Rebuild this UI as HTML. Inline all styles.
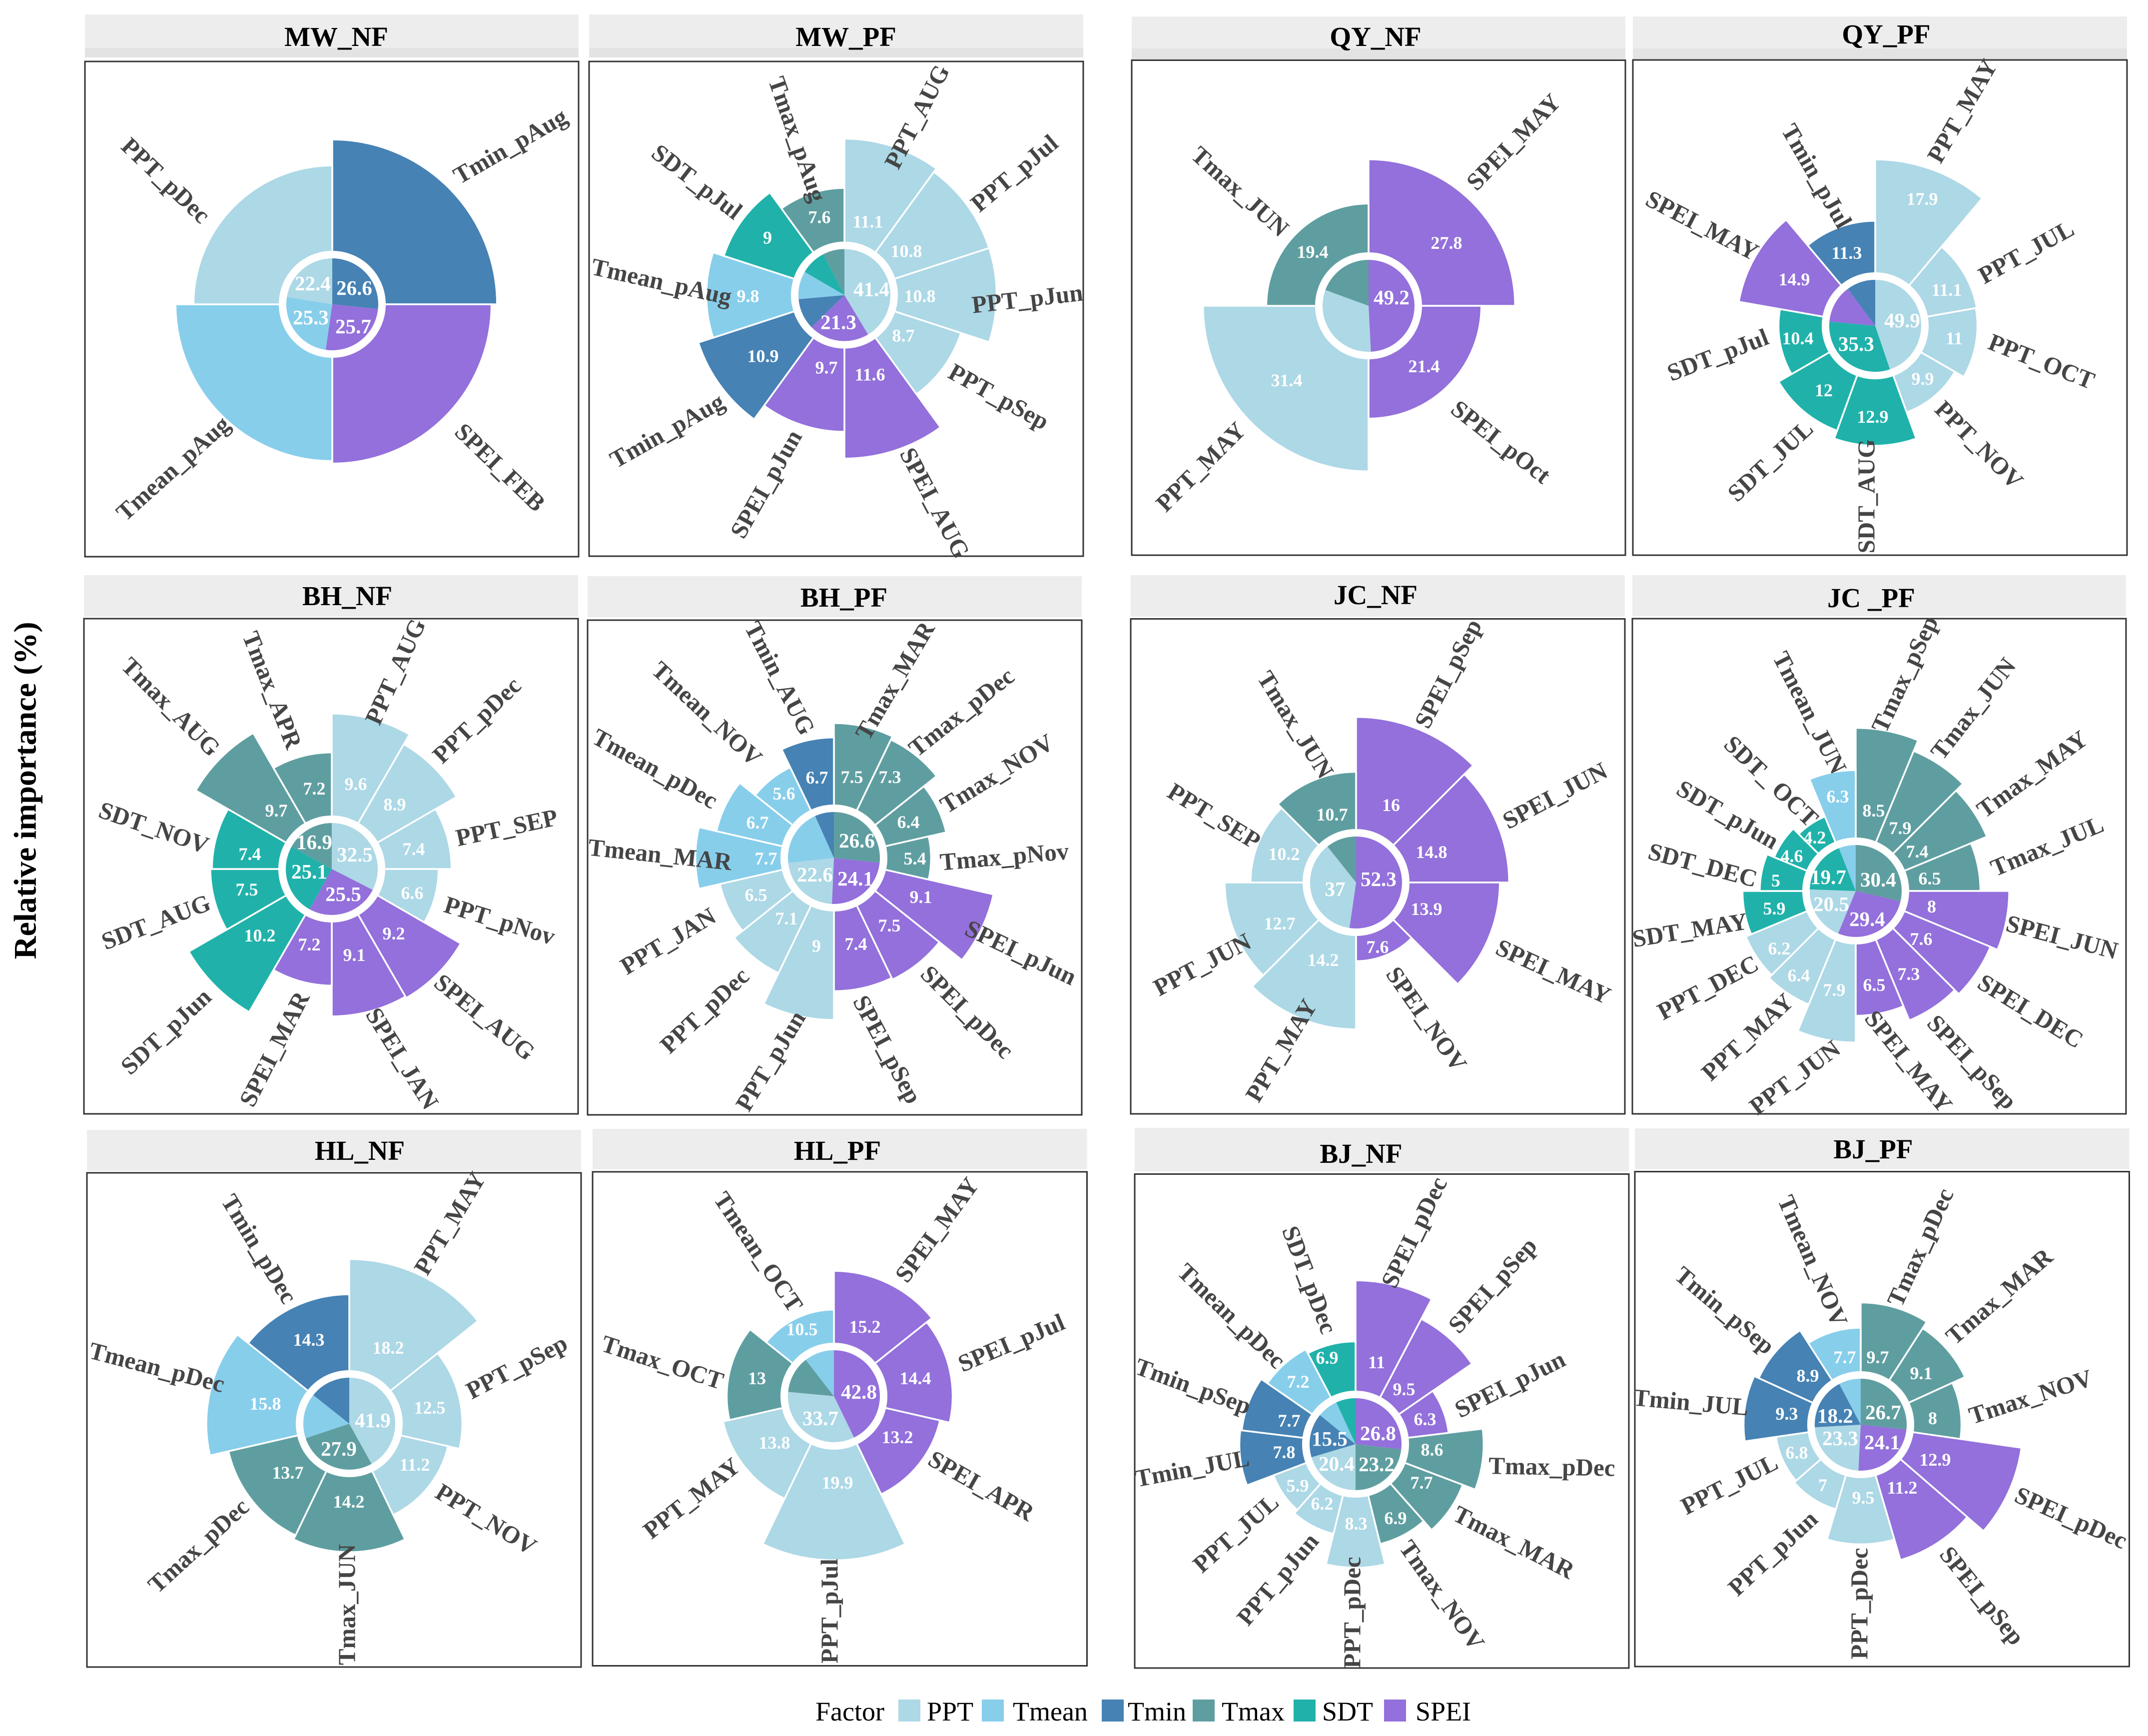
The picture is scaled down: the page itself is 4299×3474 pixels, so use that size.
<!DOCTYPE html>
<html lang="en">
<head>
<meta charset="utf-8">
<title>Relative importance polar bar charts</title>
<style>
html,body{margin:0;padding:0;background:#fff;}
svg{display:block;font-family:"Liberation Serif",serif;}
</style>
</head>
<body>
<svg id="chart" xmlns="http://www.w3.org/2000/svg" width="4299" height="3474" viewBox="0 0 4299 3474">
<rect x="0" y="0" width="4299" height="3474" fill="#ffffff"/>
<text transform="translate(50,1582) rotate(-90)" text-anchor="middle" dominant-baseline="central" font-size="64" font-weight="bold" fill="#000">Relative importance (%)</text>
<g font-size="54" fill="#000">
<text x="1632" y="3443">Factor</text>
<rect x="1798" y="3401" width="44" height="44" fill="#ADD8E6"/>
<text x="1855" y="3443">PPT</text>
<rect x="1965" y="3401" width="44" height="44" fill="#87CEEB"/>
<text x="2027" y="3443">Tmean</text>
<rect x="2205" y="3401" width="44" height="44" fill="#4682B4"/>
<text x="2257" y="3443">Tmin</text>
<rect x="2387" y="3401" width="44" height="44" fill="#5F9EA0"/>
<text x="2445" y="3443">Tmax</text>
<rect x="2589" y="3401" width="44" height="44" fill="#20B2AA"/>
<text x="2646" y="3443">SDT</text>
<rect x="2770" y="3401" width="44" height="44" fill="#9370DB"/>
<text x="2833" y="3443">SPEI</text>
</g>
</svg>
<script>
/* ---------- data: categories, bar values, inner-pie printed totals ---------- */
const mwNfLabels=["Tmin_pAug","SPEI_FEB","Tmean_pAug","PPT_pDec"];
const mwNfValues=[26.6,25.7,25.3,22.4];
const mwNfPie=[26.6,25.7,25.3,22.4];

const mwPfLabels=["PPT_AUG","PPT_pJul","PPT_pJun","PPT_pSep","SPEI_AUG","SPEI_pJun","Tmin_pAug","Tmean_pAug","SDT_pJul","Tmax_pAug"];
const mwPfValues=[11.1,10.8,10.8,8.7,11.6,9.7,10.9,9.8,9,7.6];
const mwPfPie=[41.4,21.3,10.9,9.8,9,7.6];

const qyNfLabels=["SPEI_MAY","SPEI_pOct","PPT_MAY","Tmax_JUN"];
const qyNfValues=[27.8,21.4,31.4,19.4];
const qyNfPie=[49.2,31.4,19.4];

const qyPfLabels=["PPT_MAY","PPT_JUL","PPT_OCT","PPT_NOV","SDT_AUG","SDT_JUL","SDT_pJul","SPEI_MAY","Tmin_pJul"];
const qyPfValues=[17.9,11.1,11,9.9,12.9,12,10.4,14.9,11.3];
const qyPfPie=[49.9,35.3,14.9,11.3];

const bhNfLabels=["PPT_AUG","PPT_pDec","PPT_SEP","PPT_pNov","SPEI_AUG","SPEI_JAN","SPEI_MAR","SDT_pJun","SDT_AUG","SDT_NOV","Tmax_AUG","Tmax_APR"];
const bhNfValues=[9.6,8.9,7.4,6.6,9.2,9.1,7.2,10.2,7.5,7.4,9.7,7.2];
const bhNfPie=[32.5,25.5,25.1,16.9];

const bhPfLabels=["Tmax_MAR","Tmax_pDec","Tmax_NOV","Tmax_pNov","SPEI_pJun","SPEI_pDec","SPEI_pSep","PPT_pJun","PPT_pDec","PPT_JAN","Tmean_MAR","Tmean_pDec","Tmean_NOV","Tmin_AUG"];
const bhPfValues=[7.5,7.3,6.4,5.4,9.1,7.5,7.4,9,7.1,6.5,7.7,6.7,5.6,6.7];
const bhPfPie=[26.6,24.1,22.6,20,6.7];

const jcNfLabels=["SPEI_pSep","SPEI_JUN","SPEI_MAY","SPEI_NOV","PPT_MAY","PPT_JUN","PPT_SEP","Tmax_JUN"];
const jcNfValues=[16,14.8,13.9,7.6,14.2,12.7,10.2,10.7];
const jcNfPie=[52.3,37,10.7];

const jcPfLabels=["Tmax_pSep","Tmax_JUN","Tmax_MAY","Tmax_JUL","SPEI_JUN","SPEI_DEC","SPEI_pSep","SPEI_MAY","PPT_JUN","PPT_MAY","PPT_DEC","SDT_MAY","SDT_DEC","SDT_pJun","SDT_ OCT","Tmean_JUN"];
const jcPfValues=[8.5,7.9,7.4,6.5,8,7.6,7.3,6.5,7.9,6.4,6.2,5.9,5,4.6,4.2,6.3];
const jcPfPie=[30.4,29.4,20.5,19.7,6.3];

const hlNfLabels=["PPT_MAY","PPT_pSep","PPT_NOV","Tmax_JUN","Tmax_pDec","Tmean_pDec","Tmin_pDec"];
const hlNfValues=[18.2,12.5,11.2,14.2,13.7,15.8,14.3];
const hlNfPie=[41.9,27.9,15.8,14.3];

const hlPfLabels=["SPEI_MAY","SPEI_pJul","SPEI_APR","PPT_pJul","PPT_MAY","Tmax_OCT","Tmean_OCT"];
const hlPfValues=[15.2,14.4,13.2,19.9,13.8,13,10.5];
const hlPfPie=[42.8,33.7,13,10.5];

const bjNfLabels=["SPEI_pDec","SPEI_pSep","SPEI_pJun","Tmax_pDec","Tmax_MAR","Tmax_NOV","PPT_pDec","PPT_pJun","PPT_JUL","Tmin_JUL","Tmin_pSep","Tmean_pDec","SDT_pDec"];
const bjNfValues=[11,9.5,6.3,8.6,7.7,6.9,8.3,6.2,5.9,7.8,7.7,7.2,6.9];
const bjNfPie=[26.8,23.2,20.4,15.5,7.2,6.9];

const bjPfLabels=["Tmax_pDec","Tmax_MAR","Tmax_NOV","SPEI_pDec","SPEI_pSep","PPT_pDec","PPT_pJun","PPT_JUL","Tmin_JUL","Tmin_pSep","Tmean_NOV"];
const bjPfValues=[9.7,9.1,8,12.9,11.2,9.5,7,6.8,9.3,8.9,7.7];
const bjPfPie=[26.7,24.1,23.3,18.2,7.7];

/* ---------- layout only: axis-label placement (offset from hub, rotation) ---------- */
const mwNfPlace=[[356,-317,-30],[336,326,44],[-319,328,-42],[-333,-248,43.5]];
const mwPfPlace=[[145,-357,-62.7],[340,-244,-40],[366,7,-6.6],[309,203,29],[181,416,62],[-157,378,-60.5],[-355,271,-29.4],[-366,-27,12.5],[-295,-227,37.5],[-94,-312,70.7]];
const qyNfPlace=[[290,-328,-46],[265,272,38],[-336,322,-45],[-257,-229,42]];
const qyPfPlace=[[174,-430,-60],[302,-148,-29],[333,71,21.6],[208,238,45],[-18,341,-90],[-210,270,-43],[-315,58,-21],[-346,-201,27.5],[-117,-300,60]];
const bhNfPlace=[[127,-395,-65.6],[290,-298,-44],[350,-83,-12],[336,103,17],[306,296,39],[141,379,58],[-115,360,-63],[-332,325,-43],[-352,106,-21],[-356,-83,19],[-322,-325,45],[-119,-358,68.6]];
const bhPfPlace=[[122,-355,-59.6],[255,-292,-38.4],[326,-169,-31.7],[341,-3,-5],[374,189,25.5],[267,308,45],[107,383,62],[-127,406,-59],[-259,305,-43.5],[-332,166,-31],[-348,-7,6],[-358,-179,29],[-254,-289,43],[-108,-360,62.5]];
const jcNfPlace=[[184,-418,-63],[398,-174,-28],[395,178,24.6],[141,273,55],[-150,336,-59],[-308,164,-28],[-284,-133,31.5],[-121,-316,58]];
const jcPfPlace=[[98,-434,-65],[235,-365,-52],[353,-234,-36],[383,-90,-22.8],[413,92,14.5],[350,240,31.6],[233,342,47],[106,341,51],[-122,373,-37],[-217,292,-43],[-296,193,-28],[-332,78,-9],[-306,-52,15],[-256,-153,30],[-169,-220,43.6],[-92,-357,63]];
const hlNfPlace=[[201,-401,-59],[335,-114,-27.7],[274,191,31.5],[-5,362,-90],[-302,244,-42.5],[-385,-113,14.5],[-180,-350,58.8]];
const hlPfPlace=[[206,-333,-53.7],[355,-107,-23],[295,179,29.6],[-9,430,-90],[-285,204,-38],[-343,-68,18],[-151,-289,56]];
const bjNfPlace=[[117,-424,-64],[274,-318,-48],[309,-120,-26.6],[393,45,1],[317,196,27],[173,302,54.7],[-7,337,-90],[-156,270,-50],[-240,178,-41.6],[-327,48,-10.7],[-325,-116,20],[-248,-257,44],[-92,-329,69]];
const bjPfPlace=[[119,-355,-65.4],[277,-257,-41],[340,-56,-18],[421,186,23.8],[243,342,51],[-3,358,-90],[-176,257,-43],[-263,119,-27],[-340,-45,5],[-272,-229,40],[-96,-328,66.5]];

/* ---------- layout only: where each printed bar value sits, offset from hub ---------- */
const mwPfValueSpots=[[47,-147],[124,-88],[151,2],[118,81],[51,159],[-36,145],[-163,122],[-193,2],[-154,-115],[-50,-156]];
const qyNfValueSpots=[[156,-126],[111,121],[-164,149],[-112,-108]];
const qyPfValueSpots=[[94,-254],[143,-72],[158,25],[95,106],[-5,182],[-103,129],[-155,25],[-162,-93],[-57,-146]];
const bhNfValueSpots=[[48,-170],[126,-129],[164,-40],[161,48],[124,129],[45,172],[-45,151],[-144,133],[-170,41],[-164,-30],[-111,-117],[-35,-161]];
const bhPfValueSpots=[[36,-162],[112,-162],[149,-72],[162,1],[174,78],[111,135],[44,172],[-35,176],[-95,121],[-156,74],[-136,1],[-153,-71],[-100,-129],[-34,-161]];
const jcNfValueSpots=[[70,-155],[151,-61],[141,53],[43,129],[-66,155],[-153,82],[-144,-57],[-48,-136]];
const jcPfValueSpots=[[36,-161],[89,-126],[123,-79],[148,-25],[152,31],[131,96],[106,166],[37,188],[-43,198],[-114,169],[-153,115],[-163,35],[-160,-21],[-128,-70],[-82,-107],[-36,-189]];
const hlNfValueSpots=[[78,-152],[161,-32],[131,82],[-1,156],[-123,98],[-168,-40],[-81,-168]];
const hlPfValueSpots=[[62,-139],[163,-36],[127,82],[7,173],[-119,93],[-154,-36],[-64,-134]];
const bjNfValueSpots=[[42,-164],[97,-110],[139,-50],[153,11],[132,77],[80,148],[1,159],[-67,119],[-116,83],[-143,16],[-133,-47],[-115,-125],[-57,-173]];
const bjPfValueSpots=[[34,-135],[121,-103],[144,-13],[149,70],[83,126],[5,146],[-76,121],[-128,56],[-148,-22],[-106,-98],[-32,-135]];

/* ---------- layout only: printed pie totals (null = slice carries no printed total) ---------- */
const mwNfPieSpots=[[44,-33],[42,44],[-43,26],[-39,-42]];
const mwPfPieSpots=[[54,-12],[-12,54],null,null,null,null];
const qyNfPieSpots=[[46,-17],null,null];
const qyPfPieSpots=[[54,-11],[-38,36],null,null];
const bhNfPieSpots=[[46,-29],[23,50],[-45,5],[-35,-54]];
const bhPfPieSpots=[[46,-35],[43,41],[-38,33],null,null];
const jcNfPieSpots=[[45,-7],[-42,13],null];
const jcPfPieSpots=[[45,-23],[23,56],[-49,26],[-55,-28],null];
const hlNfPieSpots=[[47,-7],[-21,50],null,null];
const hlPfPieSpots=[[50,-9],[-27,44],null,null];
const bjNfPieSpots=[[45,-22],[42,40],[-38,39],[-52,-11],null,null];
const bjPfPieSpots=[[45,-25],[43,35],[-41,27],[-51,-18],null];

/* ---------- factor colours ---------- */
const factorColors={PPT:"#ADD8E6",Tmean:"#87CEEB",Tmin:"#4682B4",Tmax:"#5F9EA0",SDT:"#20B2AA",SPEI:"#9370DB"};

/* ---------- panel layout ---------- */
const panels=[
{id:"mw-nf",title:"MW_NF",labels:mwNfLabels,values:mwNfValues,pie:mwNfPie,place:mwNfPlace,valueSpots:null,pieSpots:mwNfPieSpots,cx:665,cy:609,k:12.4,frame:[170,123,1158,1114],strip:[29,115],band:96,tx:673,ty:92},
{id:"mw-pf",title:"MW_PF",labels:mwPfLabels,values:mwPfValues,pie:mwPfPie,place:mwPfPlace,valueSpots:mwPfValueSpots,pieSpots:mwPfPieSpots,cx:1690,cy:590.5,k:28.2,frame:[1179,123,2168,1113],strip:[29,115],band:96,tx:1693,ty:92},
{id:"qy-nf",title:"QY_NF",labels:qyNfLabels,values:qyNfValues,pie:qyNfPie,place:qyNfPlace,valueSpots:qyNfValueSpots,pieSpots:qyNfPieSpots,cx:2739,cy:612,k:10.55,frame:[2265,120.5,3253,1111],strip:[33,119],band:97,tx:2753,ty:92},
{id:"qy-pf",title:"QY_PF",labels:qyPfLabels,values:qyPfValues,pie:qyPfPie,place:qyPfPlace,valueSpots:qyPfValueSpots,pieSpots:qyPfPieSpots,cx:3753,cy:652,k:18.6,frame:[3268,120,4257,1111],strip:[33,119],band:97,tx:3775,ty:87},
{id:"bh-nf",title:"BH_NF",labels:bhNfLabels,values:bhNfValues,pie:bhNfPie,place:bhNfPlace,valueSpots:bhNfValueSpots,pieSpots:bhNfPieSpots,cx:664,cy:1739,k:32.4,frame:[168,1238,1157,2229],strip:[1151,1234],tx:695,ty:1211},
{id:"bh-pf",title:"BH_PF",labels:bhPfLabels,values:bhPfValues,pie:bhPfPie,place:bhPfPlace,valueSpots:bhPfValueSpots,pieSpots:bhPfPieSpots,cx:1669,cy:1717,k:36,frame:[1176,1241,2165,2231],strip:[1153,1235],tx:1689,ty:1214},
{id:"jc-nf",title:"JC_NF",labels:jcNfLabels,values:jcNfValues,pie:jcNfPie,place:jcNfPlace,valueSpots:jcNfValueSpots,pieSpots:jcNfPieSpots,cx:2714,cy:1766,k:20.7,frame:[2263,1238.5,3252,2229],strip:[1151,1234],tx:2753,ty:1209},
{id:"jc-pf",title:"JC _PF",labels:jcPfLabels,values:jcPfValues,pie:jcPfPie,place:jcPfPlace,valueSpots:jcPfValueSpots,pieSpots:jcPfPieSpots,cx:3714,cy:1783,k:38.4,frame:[3267,1238,4255,2229],strip:[1151,1233],tx:3745,ty:1215},
{id:"hl-nf",title:"HL_NF",labels:hlNfLabels,values:hlNfValues,pie:hlNfPie,place:hlNfPlace,valueSpots:hlNfValueSpots,pieSpots:hlNfPieSpots,cx:699,cy:2849,k:18.1,frame:[174,2347,1163,3336],strip:[2261,2343],tx:720,ty:2321},
{id:"hl-pf",title:"HL_PF",labels:hlPfLabels,values:hlPfValues,pie:hlPfPie,place:hlPfPlace,valueSpots:hlPfValueSpots,pieSpots:hlPfPieSpots,cx:1669,cy:2794,k:16.5,frame:[1186,2345,2175.5,3333.5],strip:[2259,2340],tx:1676,ty:2321},
{id:"bj-nf",title:"BJ_NF",labels:bjNfLabels,values:bjNfValues,pie:bjNfPie,place:bjNfPlace,valueSpots:bjNfValueSpots,pieSpots:bjNfPieSpots,cx:2713,cy:2890,k:29.8,frame:[2271,2349.5,3260,3338],strip:[2257,2344],tx:2724,ty:2327},
{id:"bj-pf",title:"BJ_PF",labels:bjPfLabels,values:bjPfValues,pie:bjPfPie,place:bjPfPlace,valueSpots:bjPfValueSpots,pieSpots:bjPfPieSpots,cx:3724,cy:2851,k:25.2,frame:[3272,2344.6,4261.5,3335],strip:[2258,2340],tx:3749,ty:2318}
];

const svgNS="http://www.w3.org/2000/svg";
const root=document.getElementById("chart");

function make(tag,attrs,parent){
  const el=document.createElementNS(svgNS,tag);
  for(const key in attrs){el.setAttribute(key,attrs[key]);}
  parent.appendChild(el);
  return el;
}
/* axis functions */
function radialScale(panel,value){return value*panel.k;}
function polar(panel,deg,r){
  const a=deg*Math.PI/180;
  return [panel.cx+r*Math.sin(a),panel.cy-r*Math.cos(a)];
}
function sectorPath(panel,a0,a1,r){
  const p0=polar(panel,a0,r);
  const p1=polar(panel,a1,r);
  const large=(a1-a0)>180?1:0;
  return "M"+panel.cx+" "+panel.cy+"L"+p0[0]+" "+p0[1]+"A"+r+" "+r+" 0 "+large+" 1 "+p1[0]+" "+p1[1]+"Z";
}
function factorOf(label){return label.split("_")[0];}
function groupFactors(labels){
  const groups=[];
  labels.forEach(function(l){
    const f=factorOf(l);
    if(!groups.length||groups[groups.length-1]!==f){groups.push(f);}
  });
  return groups;
}

const HOLE_RADIUS=107;
const PIE_RADIUS=92;

panels.forEach(function(panel){
  const g=make("g",{},root);
  
  

  const f=panel.frame;
  const strip=make("rect",{x:f[0],y:panel.strip[0],width:f[2]-f[0],height:panel.strip[1]-panel.strip[0],fill:"#ededed"},g);
  
  
  if(panel.band){
    const band=make("rect",{x:f[0],y:panel.band,width:f[2]-f[0],height:panel.strip[1]-panel.band,fill:"#e3e3e3"},g);
    
    
  }
  const title=make("text",{x:panel.tx,y:panel.ty,"text-anchor":"middle","font-size":55,"font-weight":"bold",fill:"#000"},g);
  
  
  title.textContent=panel.title;

  const frame=make("rect",{x:f[0],y:f[1],width:f[2]-f[0],height:f[3]-f[1],fill:"#fff",stroke:"#333","stroke-width":3},g);
  
  

  const n=panel.values.length;
  const step=360/n;

  /* bars */
  panel.values.forEach(function(v,i){
    const factor=factorOf(panel.labels[i]);
    const bar=make("path",{d:sectorPath(panel,i*step,(i+1)*step,radialScale(panel,v)),fill:factorColors[factor],stroke:"#fff","stroke-width":3.5,"stroke-linejoin":"miter"},g);
    
    
  });

  /* white ring */
  const hole=make("circle",{cx:panel.cx,cy:panel.cy,r:HOLE_RADIUS,fill:"#fff"},g);
  
  

  /* inner pie */
  const groups=groupFactors(panel.labels);
  const pieTotal=panel.pie.reduce(function(a,b){return a+b;},0);
  let start=0;
  panel.pie.forEach(function(v,i){
    const sweep=v/pieTotal*360;
    const factor=groups[i]||"PPT";
    const slice=make("path",{d:sectorPath(panel,start,start+sweep,PIE_RADIUS),fill:factorColors[factor]},g);
    
    
    start+=sweep;
  });
  panel.pie.forEach(function(v,i){
    const spot=panel.pieSpots[i];
    if(spot){
      const factor=groups[i]||"PPT";
      const t=make("text",{x:panel.cx+spot[0],y:panel.cy+spot[1],"text-anchor":"middle","dominant-baseline":"central","font-size":41,"font-weight":"bold",fill:"#fff"},g);
      
      
      t.textContent=String(v);
    }
  });

  /* bar value labels */
  if(panel.valueSpots){
    panel.values.forEach(function(v,i){
      const spot=panel.valueSpots[i];
      const t=make("text",{x:panel.cx+spot[0],y:panel.cy+spot[1],"text-anchor":"middle","dominant-baseline":"central","font-size":36,"font-weight":"bold",fill:"#fff"},g);
      
      
      t.textContent=String(v);
    });
  }

  /* category labels */
  panel.labels.forEach(function(label,i){
    const s=panel.place[i];
    const x=panel.cx+s[0];
    const y=panel.cy+s[1];
    const t=make("text",{transform:"translate("+x+","+y+") rotate("+s[2]+")","text-anchor":"middle","dominant-baseline":"central","font-size":49,"font-weight":"bold",fill:"#454545"},g);
    
    
    t.textContent=label;
  });
});
</script>
</body>
</html>
